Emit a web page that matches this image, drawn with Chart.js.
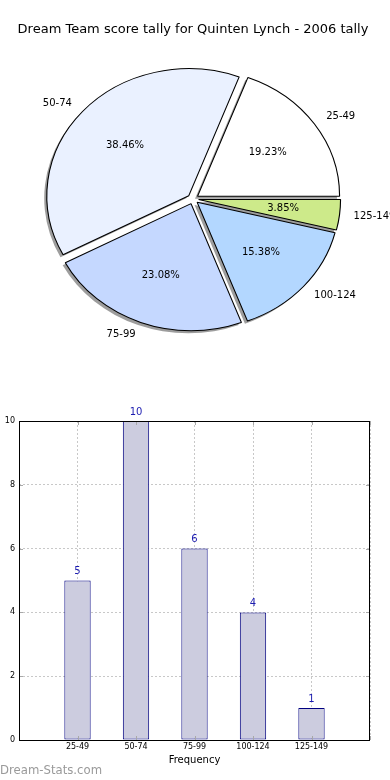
<!DOCTYPE html>
<html>
<head>
<meta charset="utf-8">
<script src="https://cdn.jsdelivr.net/npm/chart.js@4.4.1/dist/chart.umd.min.js"></script>
<style>
html, body { margin: 0; padding: 0; background: #fff; }
body { width: 390px; height: 780px; position: relative; overflow: hidden; }
#pieBox { position: absolute; left: 0; top: 0; width: 390px; height: 390px; }
#barBox { position: absolute; left: 0; top: 390px; width: 390px; height: 390px; }
#mark { position: absolute; left: 0; top: 761px; font: 11.7px "DejaVu Sans"; color: #9a9a9a; line-height: 18px; }
</style>
</head>
<body>
<div id="pieBox"><canvas id="pieChart"></canvas></div>
<div id="barBox"><canvas id="barChart"></canvas></div>
<div id="mark">Dream-Stats.com</div>
<script>
// data
const titleText = 'Dream Team score tally for Quinten Lynch - 2006 tally';
const categories = ['25-49', '50-74', '75-99', '100-124', '125-149'];
const counts = [5, 10, 6, 4, 1];
const sliceColors = ['#ffffff', '#eaf1ff', '#c5d8ff', '#b3d7ff', '#cdea8a'];
const xTitle = 'Frequency';
const yTitle = 'No. of Games';

const font = 'DejaVu Sans';
const stretchX = 142 / 127; // pie is drawn a bit wider than tall
const explode = 5;          // px each slice is pushed out
const total = counts.reduce((a, b) => a + b, 0);

// pie goes counter-clockwise from 3 o'clock, chart.js goes clockwise -> reverse
const pieLabels = categories.slice().reverse();
const pieValues = counts.slice().reverse();
const pieColors = sliceColors.slice().reverse();

// pie whose slices are each moved out along their middle angle
class ExplodedPie extends Chart.PieController {
    draw() {
        const ctx = this.chart.ctx;
        const area = this.chart.chartArea;
        this._cachedMeta.data.forEach(arc => {
            const mid = (arc.startAngle + arc.endAngle) / 2;
            ctx.save();
            ctx.translate(Math.cos(mid) * explode, Math.sin(mid) * explode);
            arc.draw(ctx, area);
            ctx.restore();
        });
    }
}
ExplodedPie.id = 'explodedPie';
Chart.register(ExplodedPie);

const pieLook = {
    id: 'pieLook',
    beforeDatasetsDraw(chart) {
        const arcs = chart.getDatasetMeta(0).data;
        const ctx = chart.ctx;
        const cx = arcs[0].x, cy = arcs[0].y;
        ctx.save();
        ctx.translate(cx, cy);
        ctx.scale(stretchX, 1);
        ctx.translate(-cx, -cy);
        // shadows
        ctx.fillStyle = 'rgba(60,60,60,0.5)';
        arcs.forEach(a => {
            const mid = (a.startAngle + a.endAngle) / 2;
            const x = a.x + Math.cos(mid) * explode - 2.6 / stretchX;
            const y = a.y + Math.sin(mid) * explode + 2.6;
            ctx.beginPath();
            ctx.moveTo(x, y);
            ctx.arc(x, y, a.outerRadius, a.startAngle, a.endAngle);
            ctx.closePath();
            ctx.fill();
        });
    },
    afterDatasetsDraw(chart) {
        const ctx = chart.ctx;
        ctx.restore();
        const arcs = chart.getDatasetMeta(0).data;
        const cx = arcs[0].x, cy = arcs[0].y;
        ctx.save();
        ctx.font = '10px "' + font + '"';
        ctx.fillStyle = '#000';
        ctx.textBaseline = 'middle';
        arcs.forEach((a, i) => {
            const mid = (a.startAngle + a.endAngle) / 2;
            const r = a.outerRadius;
            const c = Math.cos(mid), s = Math.sin(mid);
            ctx.textAlign = c > 0 ? 'left' : 'right';
            ctx.fillText(pieLabels[i], cx + stretchX * c * (explode + 1.1 * r), cy + s * (explode + 1.1 * r));
            ctx.textAlign = 'center';
            const pct = (pieValues[i] / total * 100).toFixed(2) + '%';
            ctx.fillText(pct, cx + stretchX * c * (explode + 0.6 * r), cy + s * (explode + 0.6 * r));
        });
        ctx.restore();
    }
};

new Chart(document.getElementById('pieChart'), {
    type: 'explodedPie',
    data: {
        labels: pieLabels,
        datasets: [{
            data: pieValues,
            backgroundColor: pieColors,
            borderColor: '#000',
            borderWidth: 1
        }]
    },
    options: {
        responsive: true,
        maintainAspectRatio: false,
        animation: false,
        rotation: 90,
        radius: 127,
        layout: { padding: { left: 0, right: 4, top: 0, bottom: 39.4 } },
        plugins: {
            legend: { display: false },
            tooltip: { enabled: false },
            title: {
                display: true,
                text: titleText,
                color: '#000',
                font: { family: font, size: 13, weight: 'normal' },
                lineHeight: 1.2,
                padding: { top: 22.2, bottom: 9.6 }
            }
        }
    },
    plugins: [pieLook]
});

// bar chart extras: frame, inner ticks, value labels, y title
const barLook = {
    id: 'barLook',
    afterDatasetsDraw(chart) {
        const ctx = chart.ctx;
        const { left, right, top, bottom } = chart.chartArea;
        const xs = chart.scales.x, ys = chart.scales.y;
        ctx.save();
        // inner tick marks
        ctx.strokeStyle = '#a8a8a8';
        ctx.lineWidth = 1;
        ctx.beginPath();
        ys.ticks.forEach(t => {
            const y = Math.round(ys.getPixelForValue(t.value)) + 0.5;
            ctx.moveTo(left, y); ctx.lineTo(left + 4, y);
            ctx.moveTo(right, y); ctx.lineTo(right - 4, y);
        });
        xs.ticks.forEach(t => {
            const x = Math.round(xs.getPixelForValue(t.value)) + 0.5;
            ctx.moveTo(x, top); ctx.lineTo(x, top + 4);
            ctx.moveTo(x, bottom); ctx.lineTo(x, bottom - 4);
        });
        ctx.stroke();
        // frame
        ctx.strokeStyle = '#000';
        ctx.strokeRect(left + 0.5, top + 0.5, right - left - 1, bottom - top);
        // value labels
        ctx.fillStyle = '#1c1cb0';
        ctx.font = '10px "' + font + '"';
        ctx.textAlign = 'center';
        ctx.textBaseline = 'middle';
        chart.getDatasetMeta(0).data.forEach((bar, i) => {
            ctx.fillText(String(counts[i]), bar.x, bar.y - 9);
        });
        // y title, mostly off the left edge
        ctx.fillStyle = '#000';
        ctx.font = '10px "' + font + '"';
        ctx.translate(-0.5, (top + bottom) / 2);
        ctx.rotate(-Math.PI / 2);
        ctx.textAlign = 'center';
        ctx.textBaseline = 'alphabetic';
        ctx.fillText(yTitle, 0, 0);
        ctx.restore();
    }
};

new Chart(document.getElementById('barChart'), {
    type: 'bar',
    data: {
        datasets: [{
            data: categories.map((c, i) => ({ x: i + 1, y: counts[i] })),
            backgroundColor: '#ccccdf',
            borderColor: '#000080',
            borderWidth: 1,
            borderSkipped: false,
            categoryPercentage: 1,
            barPercentage: 0.45
        }]
    },
    options: {
        responsive: true,
        maintainAspectRatio: false,
        animation: false,
        layout: { padding: { left: 0, right: 20, top: 31, bottom: 0 } },
        plugins: {
            legend: { display: false },
            tooltip: { enabled: false }
        },
        scales: {
            x: {
                type: 'linear',
                offset: false,
                min: 0,
                max: categories.length + 1,
                afterFit: s => { s.height = 40; },
                ticks: {
                    stepSize: 1,
                    autoSkip: false,
                    maxRotation: 0,
                    padding: 2.5,
                    color: '#000',
                    font: { family: font, size: 8 },
                    callback: v => categories[v - 1] || ''
                },
                grid: { color: '#c8c8c8', drawTicks: false, offset: false },
                border: { display: false, dash: [2, 2] },
                title: {
                    display: true,
                    text: xTitle,
                    color: '#000',
                    font: { family: font, size: 10 },
                    padding: { top: 0, bottom: 14 }
                }
            },
            y: {
                min: 0,
                max: 10,
                afterFit: s => { s.width = 19; },
                ticks: {
                    stepSize: 2,
                    padding: 4,
                    color: '#000',
                    font: { family: font, size: 8 }
                },
                grid: { color: '#c8c8c8', drawTicks: false },
                border: { display: false, dash: [2, 2] }
            }
        }
    },
    plugins: [barLook]
});
</script>
</body>
</html>
